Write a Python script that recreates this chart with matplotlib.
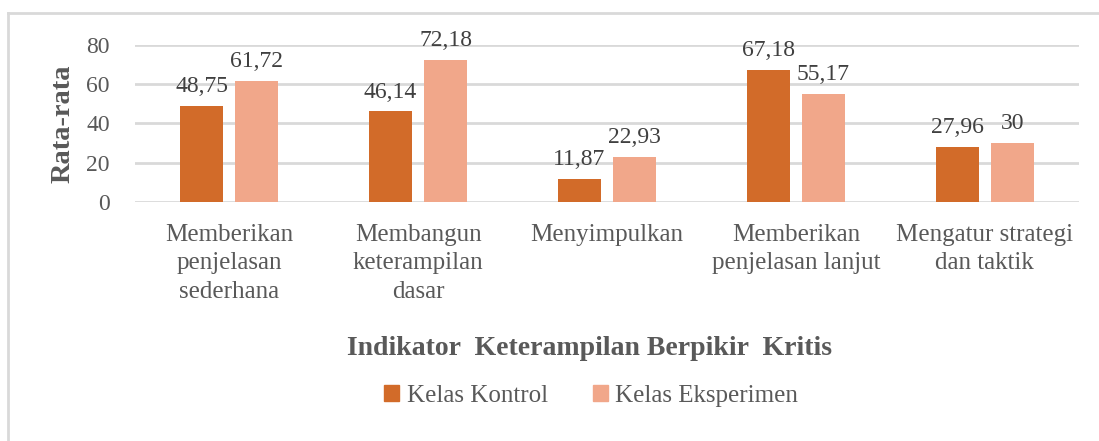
import numpy as np
import matplotlib.pyplot as plt
from matplotlib.lines import Line2D
from matplotlib.patches import Patch

# ---------------- data ----------------
categories = ['Memberikan\npenjelasan\nsederhana',
              'Membangun\nketerampilan\ndasar',
              'Menyimpulkan',
              'Memberikan\npenjelasan lanjut',
              'Mengatur strategi\ndan taktik']
kontrol = [48.75, 46.14, 11.87, 67.18, 27.96]
eksperimen = [61.72, 72.18, 22.93, 55.17, 30]
kontrol_labels = ['48,75', '46,14', '11,87', '67,18', '27,96']
eksperimen_labels = ['61,72', '72,18', '22,93', '55,17', '30']
y_ticks = [0, 20, 40, 60, 80]

c_kontrol = '#D26B29'
c_eksperimen = '#F1A78A'
grey = '#595959'

plt.rcParams['font.family'] = 'serif'
plt.rcParams['font.serif'] = ['Liberation Serif', 'Times New Roman', 'Tinos',
                              'Nimbus Roman', 'DejaVu Serif']

fig = plt.figure(figsize=(10.99, 4.41), dpi=100)
ax = fig.add_axes([0.1228, 0.542, 0.859, 0.356])

x = np.arange(len(categories))
w = 0.228
off = 0.146
b1 = ax.bar(x - off, kontrol, w, color=c_kontrol, zorder=3)
b2 = ax.bar(x + off, eksperimen, w, color=c_eksperimen, zorder=3)

# data labels
for bars, labels in [(b1, kontrol_labels), (b2, eksperimen_labels)]:
    for rect, lab in zip(bars, labels):
        ax.annotate(lab, (rect.get_x() + rect.get_width() / 2, rect.get_height()),
                    xytext=(0, 10), textcoords='offset points',
                    ha='center', va='baseline', fontsize=17, color='#404040')

ax.set_xlim(-0.5, len(categories) - 0.5)
ax.set_ylim(0, 80)
ax.set_yticks(y_ticks)
ax.set_xticks(x)
ax.set_xticklabels(categories, linespacing=1.4, fontsize=18)
ax.tick_params(axis='both', length=0, labelcolor=grey)
ax.tick_params(axis='y', labelsize=17, pad=18)
ax.tick_params(axis='x', pad=15.5)
ax.yaxis.grid(True, color='#D9D9D9', lw=2, zorder=0)
for s in ax.spines.values():
    s.set_visible(False)

ax.set_ylabel('Rata-rata', fontsize=20.5, fontweight='bold', color=grey, labelpad=8)
fig.text(0.536, 0.21, 'Indikator  Keterampilan Berpikir  Kritis', ha='center', va='center',
         fontsize=20, fontweight='bold', color=grey)

handles = [Patch(color=c_kontrol, label='Kelas Kontrol'),
           Patch(color=c_eksperimen, label='Kelas Eksperimen')]
leg = fig.legend(handles=handles, loc='center', bbox_to_anchor=(0.538, 0.103), ncol=2,
                 frameon=False, fontsize=18, handlelength=0.6, handleheight=0.6,
                 handletextpad=0.3, columnspacing=1.8)
for t in leg.get_texts():
    t.set_color(grey)

# outer frame (top and left lines)
fig.add_artist(Line2D([8 / 1099, 1], [1 - 13 / 441, 1 - 13 / 441], color='#D9D9D9', lw=2,
                      transform=fig.transFigure))
fig.add_artist(Line2D([8 / 1099, 8 / 1099], [0, 1 - 13 / 441], color='#D9D9D9', lw=2,
                      transform=fig.transFigure))

fig.savefig('out.png', dpi=100)
